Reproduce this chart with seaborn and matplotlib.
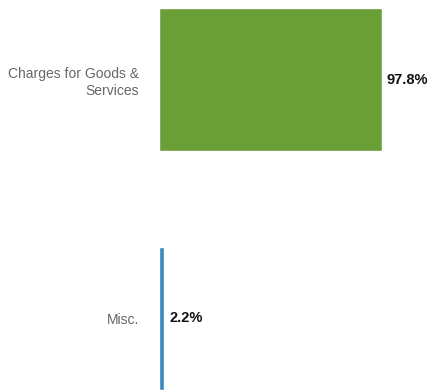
import seaborn as sns
import matplotlib.pyplot as plt
import pandas as pd

categories = ['Charges for Goods &\nServices', 'Misc.']
values = [97.8, 2.2]
colors = ['#6a9f38', '#3a8abf']

df = pd.DataFrame({'category': categories, 'value': values})

sns.set_style('white')
plt.rcParams['font.family'] = ['Liberation Sans', 'DejaVu Sans']

fig = plt.figure(figsize=(4.3, 3.9), dpi=100)
ax = fig.add_axes([159 / 430, 0, (428 - 159) / 430, 1])

sns.barplot(data=df, x='value', y='category', hue='category',
            palette=colors, orient='h', width=0.6, legend=False, ax=ax,
            saturation=1)

# value labels
for i, v in enumerate(values):
    ax.text(v + 2.2, i, f'{v}%', va='center', ha='left',
            fontsize=10.5, fontweight='bold', color='#111111')

ax.set_xlim(0, 118)
ax.set_ylim(1.3, -0.333)
ax.set_xlabel('')
ax.set_ylabel('')
ax.set_xticks([])
ax.tick_params(axis='y', length=0, pad=14.5, labelsize=10, labelcolor='#666666')
for lbl in ax.get_yticklabels():
    lbl.set_horizontalalignment('right')
    lbl.set_multialignment('right')
    lbl.set_linespacing(1.3)
sns.despine(ax=ax, left=True, bottom=True)

fig.savefig('out.png', dpi=100)
